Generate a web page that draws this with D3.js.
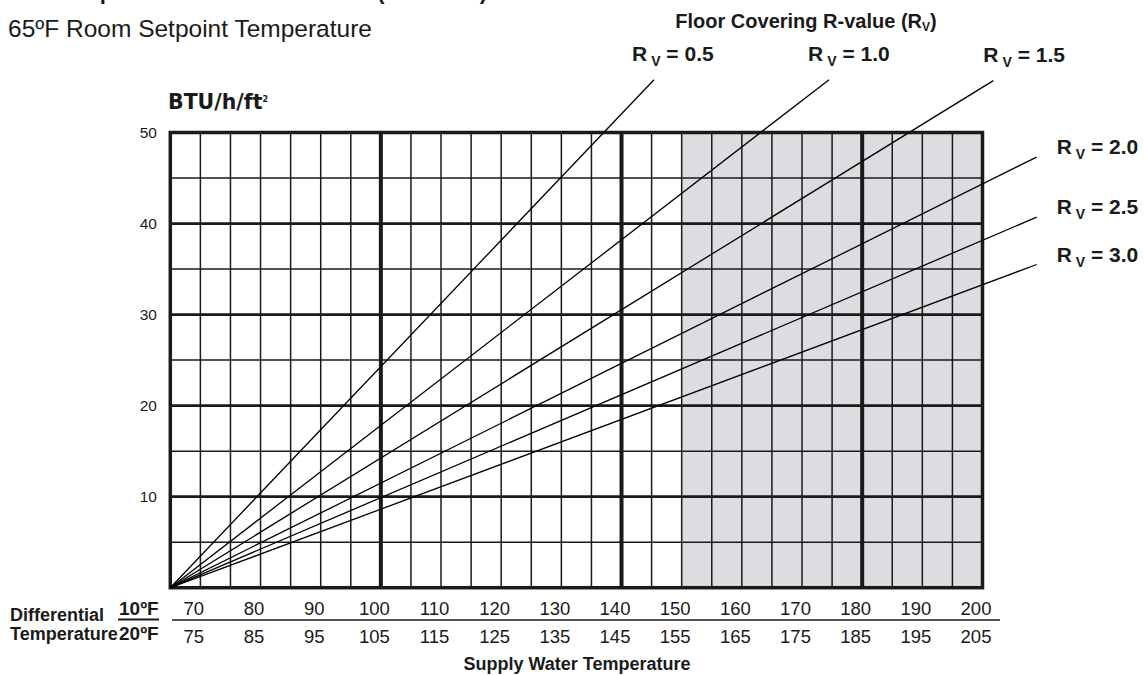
<!DOCTYPE html>
<html><head><meta charset="utf-8">
<script src="https://cdn.jsdelivr.net/npm/d3@7/dist/d3.min.js"></script>
<style>
html,body{margin:0;padding:0;background:#fff;}
svg{display:block;font-family:"Liberation Sans",Arial,sans-serif;}
</style></head><body>
<svg id="chart" width="1145" height="675"></svg>
<script>
// ---- data ----
const supplyTemps10 = [70,80,90,100,110,120,130,140,150,160,170,180,190,200];
const supplyTemps20 = [75,85,95,105,115,125,135,145,155,165,175,185,195,205];
const outputTicks = [10,20,30,40,50];
const rValueLabels = ["0.5","1.0","1.5","2.0","2.5","3.0"];
const lineStartSupply = [65,65,65,65,65,65];
const lineStartOutput = [0,0,0,0,0,0];
const lineEndSupply = [145.4,174.5,201.8,209.0,209.0,209.0];
const lineEndOutput = [55.8,55.8,55.7,47.3,40.7,35.5];
const shadedRange = [150,200];
const heavySupply = [100,140,180];
const supplyDomain = [65,200];
const outputDomain = [0,50];

// ---- scales ----
const x = d3.scaleLinear().domain(supplyDomain).range([170.3, 982.5]);
const y = d3.scaleLinear().domain(outputDomain).range([587.7, 132.5]);
const svg = d3.select("#chart");
const ink = "#1a1a1a";

// cut-off heading at very top (only its lowest pixels show)
svg.append("text").attr("x", 8).attr("y", -1.5)
  .attr("font-weight", "bold").attr("font-size", 22).attr("fill", ink)
  .text("Heat Output Chart – Slab on Grade (Concrete)");

svg.append("text").attr("x", 8).attr("y", 36.7)
  .attr("font-size", 24.5).attr("fill", ink)
  .text("65ºF Room Setpoint Temperature");

const btu = svg.append("text").attr("x", 168).attr("y", 109)
  .attr("font-family", "DejaVu Sans, sans-serif")
  .attr("font-weight", "bold").attr("font-size", 20.5).attr("fill", ink);
btu.append("tspan").text("BTU/h/ft");
btu.append("tspan").attr("font-size", 8).attr("dy", -7).text("2");

// floor covering header
const fc = svg.append("text").attr("x", 806).attr("y", 28).attr("text-anchor", "middle")
  .attr("font-weight", "bold").attr("font-size", 20).attr("fill", ink);
fc.append("tspan").text("Floor Covering R-value (R");
fc.append("tspan").attr("font-size", 12).attr("dy", 3).text("V");
fc.append("tspan").attr("dy", -3).text(")");

// shading
svg.append("rect")
  .attr("x", x(shadedRange[0])).attr("y", y(outputDomain[1]))
  .attr("width", x(shadedRange[1]) - x(shadedRange[0]))
  .attr("height", y(outputDomain[0]) - y(outputDomain[1]))
  .attr("fill", "#dcdde0");

const grid = svg.append("g").attr("stroke", ink);
const thinX = d3.range(supplyDomain[0] + 5, supplyDomain[1], 5).filter(v => !heavySupply.includes(v));
grid.selectAll(".vt").data(thinX).join("line")
  .attr("x1", d => x(d)).attr("x2", d => x(d))
  .attr("y1", y(0)).attr("y2", y(50)).attr("stroke-width", 1.5);
const thinY = d3.range(5, 50, 10);
grid.selectAll(".ht").data(thinY).join("line")
  .attr("x1", x(65)).attr("x2", x(200))
  .attr("y1", d => y(d)).attr("y2", d => y(d)).attr("stroke-width", 1.5);
grid.selectAll(".hh").data(outputTicks.filter(v => v < 50)).join("line")
  .attr("x1", x(65)).attr("x2", x(200))
  .attr("y1", d => y(d)).attr("y2", d => y(d)).attr("stroke-width", 2.7);
grid.selectAll(".vh").data(heavySupply).join("line")
  .attr("x1", d => x(d)).attr("x2", d => x(d))
  .attr("y1", y(0)).attr("y2", y(50)).attr("stroke-width", 4);
svg.append("rect").attr("x", x(65)).attr("y", y(50))
  .attr("width", x(200) - x(65)).attr("height", y(0) - y(50))
  .attr("fill", "none").attr("stroke", ink).attr("stroke-width", 3.5);

// y tick labels
svg.selectAll(".yl").data(outputTicks).join("text")
  .attr("x", 157).attr("y", d => y(d)).attr("dy", "0.35em")
  .attr("text-anchor", "end").attr("font-size", 15.5).attr("fill", ink)
  .text(d => d);

// R-value lines
const series = rValueLabels.map((r, i) => ({
  r, pts: [[lineStartSupply[i], lineStartOutput[i]], [lineEndSupply[i], lineEndOutput[i]]]
}));
const lineGen = d3.line().x(d => x(d[0])).y(d => y(d[1]));
svg.selectAll(".rl").data(series).join("path")
  .attr("d", d => lineGen(d.pts)).attr("fill", "none")
  .attr("stroke", "#000").attr("stroke-width", 1.3);

// R-value labels
const topNudge = [-22, -21, -10];
series.forEach((s, i) => {
  const ex = x(s.pts[1][0]), ey = y(s.pts[1][1]);
  let lx, ly;
  if (i < 3) { lx = ex + topNudge[i]; ly = ey - 18.3; }
  else { lx = ex + 20; ly = ey - 3; }
  const t = svg.append("text").attr("x", lx).attr("y", ly)
    .attr("font-weight", "bold").attr("font-size", 21).attr("fill", ink);
  t.append("tspan").text("R");
  t.append("tspan").attr("font-size", 14).attr("dx", 4).attr("dy", 5).text("V");
  t.append("tspan").attr("dy", -5).text(" = " + s.r);
});

// bottom axis labels
const lblOff = -6.5;
svg.selectAll(".b10").data(supplyTemps10).join("text")
  .attr("x", d => x(d) + lblOff).attr("y", 614.5)
  .attr("text-anchor", "middle").attr("font-size", 18.5).attr("fill", ink)
  .text(d => d);
svg.selectAll(".b20").data(supplyTemps20).join("text")
  .attr("x", (d, i) => x(supplyTemps10[i]) + lblOff).attr("y", 642.5)
  .attr("text-anchor", "middle").attr("font-size", 18.5).attr("fill", ink)
  .text(d => d);
svg.append("line").attr("x1", 172).attr("x2", 1000).attr("y1", 620).attr("y2", 620)
  .attr("stroke", ink).attr("stroke-width", 1.5);

svg.append("text").attr("x", 10).attr("y", 621).attr("font-weight", "bold")
  .attr("font-size", 18).attr("fill", ink).text("Differential");
svg.append("text").attr("x", 10).attr("y", 639.5).attr("font-weight", "bold")
  .attr("font-size", 18).attr("fill", ink).text("Temperature");
svg.append("text").attr("x", 119).attr("y", 615).attr("font-weight", "bold")
  .attr("font-size", 19).attr("fill", ink).text("10ºF");
svg.append("line").attr("x1", 118).attr("x2", 159).attr("y1", 619.5).attr("y2", 619.5)
  .attr("stroke", ink).attr("stroke-width", 1.8);
svg.append("text").attr("x", 119).attr("y", 639.5).attr("font-weight", "bold")
  .attr("font-size", 19).attr("fill", ink).text("20ºF");

svg.append("text").attr("x", 577).attr("y", 670).attr("text-anchor", "middle")
  .attr("font-weight", "bold").attr("font-size", 18).attr("fill", ink)
  .text("Supply Water Temperature");
</script>
</body></html>
